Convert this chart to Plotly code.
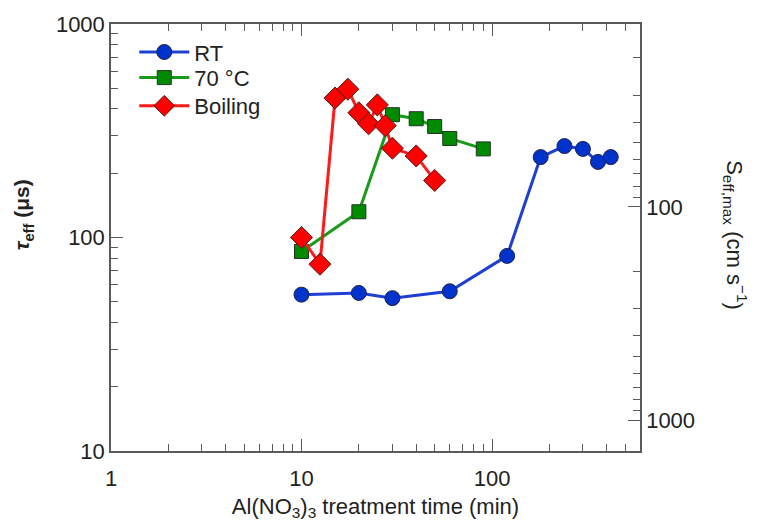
import math
import plotly.graph_objects as go

# Data
rt_x = [10, 20, 30, 60, 120, 180, 240, 300, 360, 420]
rt_y = [54, 55, 52, 56, 82, 238, 268, 260, 226, 238]

c70_x = [10, 20, 30, 40, 50, 60, 90]
c70_y = [86, 132, 376, 360, 331, 291, 260]

boil_x = [10, 12.5, 15, 17.5, 20, 22.5, 25, 27.5, 30, 40, 50]
boil_y = [100, 75, 450, 495, 384, 341, 418, 334, 262, 241, 185]

x_major = [1, 10, 100]
x_minor = [2, 3, 4, 5, 6, 7, 8, 9, 20, 30, 40, 50, 60, 70, 80, 90, 200, 300, 400, 500]
y_major = [10, 100, 1000]
y_minor = [20, 30, 40, 50, 60, 70, 80, 90, 200, 300, 400, 500, 600, 700, 800, 900]
s_major = [100, 1000]
s_minor = [20, 30, 40, 50, 60, 70, 80, 90, 200, 300, 400, 500, 600, 700, 800, 900]

# conversion constant S = K / tau (cm/s, tau in us)
K = 13900.0

AX = "#5a5a5a"
FONT = "Liberation Sans, Arial, sans-serif"
FS = 22

fig = go.Figure()
fig.add_trace(go.Scatter(x=rt_x, y=rt_y, mode="lines+markers", name="RT", legend="legend",
                         line=dict(color="#1f3fd4", width=3),
                         marker=dict(symbol="circle", size=15, color="#0033cc",
                                     line=dict(color="#222244", width=1))))
fig.add_trace(go.Scatter(x=c70_x, y=c70_y, mode="lines+markers", name="70 °C", legend="legend2",
                         line=dict(color="#1a9a1a", width=3),
                         marker=dict(symbol="square", size=14, color="#008a00",
                                     line=dict(color="#223322", width=1))))
fig.add_trace(go.Scatter(x=boil_x, y=boil_y, mode="lines+markers", name="Boiling", legend="legend3",
                         line=dict(color="#ff1a1a", width=3),
                         marker=dict(symbol="diamond", size=17, color="#ff0000",
                                     line=dict(color="#442222", width=1))))

x_range = [0, math.log10(598)]
s_top = K / 1000.0
s_bot = K / 10.0

tickstyle = dict(ticks="inside", ticklen=12, tickwidth=1.2, tickcolor=AX,
                 showline=True, linecolor=AX, linewidth=1.5,
                 showgrid=False, zeroline=False, tickmode="array")
minorstyle = dict(ticks="inside", ticklen=7, tickwidth=1.2, tickcolor=AX,
                  tickmode="array", showgrid=False)
legstyle = dict(x=0.044, xanchor="left", yanchor="middle",
                bgcolor="rgba(255,255,255,0)", font=dict(size=FS),
                itemwidth=50, tracegroupgap=0)

fig.update_layout(
    width=758, height=529,
    margin=dict(l=111, r=118, t=16, b=78),
    paper_bgcolor="white", plot_bgcolor="white",
    font=dict(family=FONT, size=FS, color="#222222"),
    showlegend=True,
    legend=dict(y=0.934, **legstyle),
    legend2=dict(y=0.874, **legstyle),
    legend3=dict(y=0.808, **legstyle),
    xaxis=dict(type="log", range=x_range, **tickstyle,
               tickvals=x_major, ticktext=[str(v) for v in x_major],
               ticklabelstandoff=7,
               minor=dict(tickvals=x_minor, **minorstyle),
               title=dict(text="Al(NO<sub>3</sub>)<sub>3</sub> treatment time (min)",
                          font=dict(size=FS), standoff=8)),
    xaxis2=dict(type="log", range=x_range, overlaying="x", side="top", anchor="y",
                **tickstyle, tickvals=x_major, showticklabels=False,
                minor=dict(tickvals=x_minor, **minorstyle)),
    yaxis=dict(type="log", range=[1, 3], **tickstyle,
               tickvals=y_major, ticktext=[str(v) for v in y_major],
               minor=dict(tickvals=y_minor, **minorstyle)),
    yaxis2=dict(type="log", overlaying="y", side="right", anchor="x",
                range=[math.log10(s_bot), math.log10(s_top)], **tickstyle,
                tickvals=s_major, ticktext=[str(v) for v in s_major],
                minor=dict(tickvals=s_minor, **minorstyle)),
)

# invisible traces to activate the top and right axes
fig.add_trace(go.Scatter(x=[10], y=[K / 100.0], yaxis="y2", mode="markers",
                         marker=dict(opacity=0), showlegend=False, hoverinfo="skip"))
fig.add_trace(go.Scatter(x=[10], y=[100], xaxis="x2", mode="markers",
                         marker=dict(opacity=0), showlegend=False, hoverinfo="skip"))

# axis titles
fig.add_annotation(text="<b><i>τ</i><sub>eff</sub> (μs)</b>", textangle=-90,
                   xref="paper", yref="paper", x=-0.165, y=0.554,
                   xanchor="center", yanchor="middle",
                   showarrow=False, font=dict(size=21, family=FONT, color="#222222"))
fig.add_annotation(text="S<sub>eff,max</sub> (cm s<sup>−1</sup>)", textangle=90,
                   xref="paper", yref="paper", x=1.18, y=0.505,
                   xanchor="center", yanchor="middle",
                   showarrow=False, font=dict(size=FS, family=FONT, color="#222222"))

fig.write_html("out.html")
